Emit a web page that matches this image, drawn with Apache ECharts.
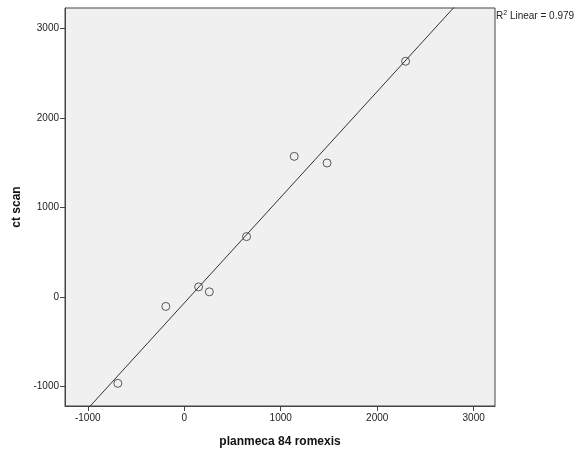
<!DOCTYPE html>
<html><head><meta charset="utf-8">
<script src="https://cdn.jsdelivr.net/npm/echarts@6/dist/echarts.min.js"></script>
<style>html,body{margin:0;padding:0;background:#fff}#c{width:576px;height:453px}</style>
</head><body><div id="c"></div>
<script>
var xValues = [-688, -191, 149, 260, 646, 1140, 1480, 2294];
var yValues = [-966, -107, 111, 56, 673, 1569, 1495, 2631];
var xTicks = [-1000, 0, 1000, 2000, 3000];
var yTicks = [-1000, 0, 1000, 2000, 3000];
var r2Label = '0.979';
var xName = 'planmeca 84 romexis';
var yName = 'ct scan';

var xMin = -1236, xMax = 3221, yMin = -1219, yMax = 3226;

var pts = xValues.map(function(x, i){ return [x, yValues[i]]; });
// least-squares fit
var n = xValues.length, mx = 0, my = 0;
for (var i = 0; i < n; i++) { mx += xValues[i]; my += yValues[i]; }
mx /= n; my /= n;
var sxy = 0, sxx = 0;
for (var i = 0; i < n; i++) { sxy += (xValues[i]-mx)*(yValues[i]-my); sxx += (xValues[i]-mx)*(xValues[i]-mx); }
var slope = sxy / sxx, icpt = my - slope * mx;
var fitLine = [[xMin, icpt + slope*xMin], [xMax, icpt + slope*xMax]];

var chart = echarts.init(document.getElementById('c'));
var font = 'Liberation Sans, Arial, sans-serif';
function plain(v){ return String(v); }
chart.setOption({
  animation: false,
  grid: { left: 65, top: 8, right: 81, bottom: 44, show: true, backgroundColor: '#f0f0f0', borderColor: '#444', borderWidth: 1 },
  xAxis: {
    type: 'value', min: xMin, max: xMax,
    axisLine: { show: true, onZero: false, lineStyle: { color: '#444' } },
    axisTick: { show: true, length: 5, lineStyle: { color: '#444' }, customValues: xTicks },
    axisLabel: { color: '#222', fontSize: 10, fontFamily: font, margin: 7, customValues: xTicks, formatter: plain },
    splitLine: { show: false },
    name: xName, nameLocation: 'middle', nameGap: 30,
    nameTextStyle: { color: '#111', fontSize: 12, fontWeight: 'bold', fontFamily: font }
  },
  yAxis: {
    type: 'value', min: yMin, max: yMax,
    axisLine: { show: true, onZero: false, lineStyle: { color: '#444' } },
    axisTick: { show: true, length: 5, lineStyle: { color: '#444' }, customValues: yTicks },
    axisLabel: { color: '#222', fontSize: 10, fontFamily: font, margin: 6, customValues: yTicks, formatter: plain },
    splitLine: { show: false },
    name: yName, nameLocation: 'middle', nameGap: 42, nameRotate: 90,
    nameTextStyle: { color: '#111', fontSize: 12, fontWeight: 'bold', fontFamily: font }
  },
  graphic: [{
    type: 'text', left: 496, top: 10,
    style: {
      rich: {
        a: { fontSize: 10, fontFamily: font, fill: '#222' },
        s: { fontSize: 7, fontFamily: font, fill: '#222', verticalAlign: 'top', padding: [0,0,6,0] }
      },
      text: '{a|R}{s|2}{a| Linear = ' + r2Label + '}'
    }
  }],
  series: [{
    type: 'line', data: fitLine, showSymbol: false, symbol: 'none', clip: true,
    lineStyle: { color: '#333', width: 1 }, silent: true, z: 2
  }, {
    type: 'scatter', data: pts, symbol: 'circle', symbolSize: 8,
    itemStyle: { color: 'rgba(0,0,0,0)', borderColor: '#333', borderWidth: 1 }, z: 3
  }]
});
</script></body></html>
